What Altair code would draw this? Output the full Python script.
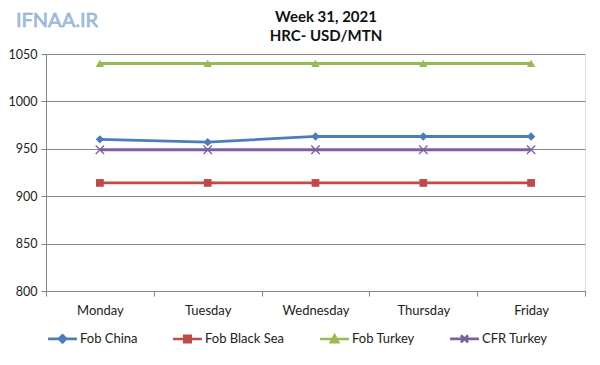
import altair as alt
import pandas as pd

days = ["Monday", "Tuesday", "Wednesday", "Thursday", "Friday"]
series_names = ["Fob China", "Fob Black Sea", "Fob Turkey", "CFR Turkey"]
fob_china = [960, 957, 963, 963, 963]
fob_black_sea = [914, 914, 914, 914, 914]
fob_turkey = [1040, 1040, 1040, 1040, 1040]
cfr_turkey = [949, 949, 949, 949, 949]
y_ticks = [800, 850, 900, 950, 1000, 1050]
title_lines = ["Week 31, 2021", "HRC- USD/MTN"]

colors = ["#4a7ebb", "#be4b48", "#98b954", "#7d60a0"]
marker_shapes = ["diamond", "square", "triangle-up", "M-1,-1L1,1M-1,1L1,-1"]
marker_sizes = [70, 60, 70, 70]
marker_filled = [True, True, True, False]
legend_paths = [
    "M-3.6,0L3.6,0M0,-0.9L0.9,0L0,0.9L-0.9,0Z",
    "M-3.6,0L3.6,0M-0.8,-0.8L0.8,-0.8L0.8,0.8L-0.8,0.8Z",
    "M-3.6,0L3.6,0M0,-0.9L0.9,0.8L-0.9,0.8Z",
    "M-3.6,0L3.6,0M-0.9,-0.9L0.9,0.9M-0.9,0.9L0.9,-0.9",
]

rows = []
for name, vals in zip(series_names, [fob_china, fob_black_sea, fob_turkey, cfr_turkey]):
    for d, v in zip(days, vals):
        rows.append({"day": d, "series": name, "value": v})
df = pd.DataFrame(rows)

FONT = "Lato"

x_enc = alt.X(
    "day:N",
    sort=days,
    title=None,
    scale=alt.Scale(paddingInner=0, paddingOuter=0),
    axis=alt.Axis(
        labelAngle=0, tickBand="extent", grid=False, tickSize=5,
        labelPadding=8, labelFontSize=13, labelFont=FONT, labelColor="#222222",
        domainColor="#868686", tickColor="#868686",
    ),
)
y_enc = alt.Y(
    "value:Q",
    title=None,
    scale=alt.Scale(domain=[800, 1050], nice=False, zero=False),
    axis=alt.Axis(
        values=y_ticks, format="d", grid=True, gridColor="#868686", gridWidth=1,
        tickSize=5, labelPadding=4, labelFontSize=12.5, labelFont=FONT,
        labelColor="#222222", domainColor="#868686", tickColor="#868686",
    ),
)

leg = alt.Legend(
    title=None, orient="none", legendX=10, legendY=278, direction="horizontal",
    columns=4, columnPadding=29, symbolSize=64, symbolStrokeWidth=2.6,
    labelFont=FONT, labelFontSize=13, labelColor="#222222", labelOffset=11,
    padding=0, symbolOpacity=1,
)

stroke_scale = alt.Scale(domain=series_names, range=colors)

lines = alt.Chart(df).mark_line(strokeWidth=2.8).encode(
    x=x_enc, y=y_enc,
    stroke=alt.Stroke("series:N", scale=stroke_scale, legend=leg),
    detail="series:N",
)

layers = [lines]
for i, name in enumerate(series_names):
    if marker_filled[i]:
        mk = alt.Chart(df).mark_point(
            shape=marker_shapes[i], size=marker_sizes[i], filled=True,
            color=colors[i], opacity=1,
        )
    else:
        mk = alt.Chart(df).mark_point(
            shape=marker_shapes[i], size=marker_sizes[i], filled=False,
            color=colors[i], strokeWidth=1.3, opacity=1,
        )
    layers.append(
        mk.transform_filter(alt.datum.series == name).encode(x=x_enc, y=y_enc)
    )

legend_layer = alt.Chart(df).mark_point(filled=True, opacity=0).encode(
    x=x_enc, y=y_enc,
    fill=alt.Fill("series:N", scale=alt.Scale(domain=series_names, range=colors), legend=leg),
    stroke=alt.Stroke("series:N", scale=stroke_scale, legend=leg),
    shape=alt.Shape("series:N", scale=alt.Scale(domain=series_names, range=legend_paths), legend=leg),
)
layers.append(legend_layer)

watermark = alt.Chart(pd.DataFrame({"t": ["IFNAA.IR"]})).mark_text(
    font=FONT, fontSize=20, color="#a8c4e4", stroke="#7a9fcc", strokeWidth=0.5,
    align="center", baseline="middle",
).encode(text="t:N", x=alt.value(11), y=alt.value(-33))
layers.append(watermark)

title_df = pd.DataFrame({"t": title_lines, "row": [0, 1]})
title1 = alt.Chart(title_df).transform_filter(alt.datum.row == 0).mark_text(
    font=FONT, fontSize=15, fontWeight="bold", color="#111111",
    align="center", baseline="middle",
).encode(text="t:N", x=alt.value(280), y=alt.value(-37))
title2 = alt.Chart(title_df).transform_filter(alt.datum.row == 1).mark_text(
    font=FONT, fontSize=15, fontWeight="bold", color="#111111",
    align="center", baseline="middle",
).encode(text="t:N", x=alt.value(280), y=alt.value(-18))
layers += [title1, title2]

chart = alt.layer(*layers).properties(
    width=539, height=237,
    autosize=alt.AutoSizeParams(type="none"),
    padding={"left": 38, "top": 46, "right": 7, "bottom": 64},
).configure_view(stroke=None).configure(background="white")

chart.save("out.html", embed_options={"renderer": "svg", "actions": False})
